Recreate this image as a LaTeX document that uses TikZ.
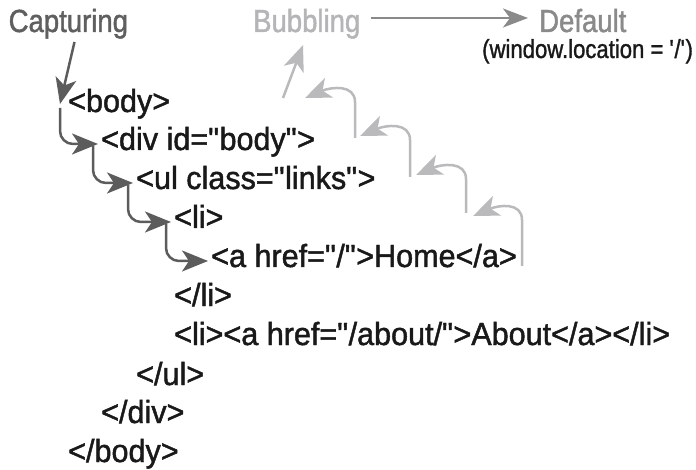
\documentclass[tikz,border=0pt]{standalone}
\usepackage{fontspec}
\setmainfont{Liberation Sans}
\newfontfamily\headfont[FakeStretch=0.86, FakeBold=1.4]{Liberation Sans}
\newfontfamily\codefont[FakeStretch=0.955, FakeBold=1.4]{Liberation Sans}
\newfontfamily\subfont[FakeStretch=0.85, FakeBold=1.2]{Liberation Sans}
\usepackage{tikz}
\usetikzlibrary{arrows.meta, positioning, calc}
\definecolor{capgray}{RGB}{95, 95, 95}
\definecolor{bubgray}{RGB}{181, 181, 183}
\definecolor{defgray}{RGB}{138, 138, 138}
\definecolor{codeblack}{RGB}{25, 25, 25}
\definecolor{capline}{RGB}{92, 92, 92}
\definecolor{bubline}{RGB}{186, 186, 188}
\newcommand{\dquo}{\textquotedbl}
\newcommand{\squo}{\textquotesingle}

\begin{document}
\begin{tikzpicture}[x=1pt, y=-1pt,
    txt/.style={inner sep=0pt, anchor=base west},
    tag/.style={txt, text=codeblack, font=\codefont\fontsize{32}{38}\selectfont},
    phase/.style={txt, font=\headfont\fontsize{32}{38}\selectfont},
    capflow/.style={-{Stealth[length=26pt, width=21pt, inset=7pt]}, line width=2.5pt, draw=capline, rounded corners=13pt},
    bubflow/.style={-{Stealth[length=26pt, width=21pt, inset=7pt]}, line width=2.5pt, draw=bubline},
    defflow/.style={-{Stealth[length=25pt, width=19pt, inset=7pt]}, line width=2pt, draw=defgray}]
    \useasboundingbox (0,0) rectangle (696,470);
    % phases
    \node[phase, text=capgray] (cap) at (8.5,32) {Capturing};
    \node[phase, text=bubgray] (bub) at (253,32) {Bubbling};
    \node[phase, text=defgray] (def) at (539,32) {Default};
    \node[txt, text=codeblack, font=\subfont\fontsize{26}{30}\selectfont] (loc) at (482,58) {(window.location = \squo/\squo)};
    % markup
    \node[tag] (body1) at (68,112) {<body>};
    \node[tag] (div1) at (101,150) {<div id=\dquo body\dquo>};
    \node[tag] (ul1) at (136,189) {<ul class=\dquo links\dquo>};
    \node[tag] (li1) at (174,228) {<li>};
    \node[tag] (a1) at (211,267) {<a href=\dquo/\dquo>Home</a>};
    \node[tag] (li1end) at (174,306) {</li>};
    \node[tag] (li2) at (174,345) {<li><a href=\dquo/about/\dquo>About</a></li>};
    \node[tag] (ul1end) at (136,385) {</ul>};
    \node[tag] (div1end) at (101,423) {</div>};
    \node[tag] (body1end) at (68,462) {</body>};
    % capturing
    \draw[capflow] ([shift={(66,10)}]cap.base west) -- ([shift={(-8,-8)}]body1.base west);
    \foreach \a/\b in {body1/div1, div1/ul1, ul1/li1, li1/a1}
        \draw[capflow] ([shift={(-8,-4)}]\a.base west) |- ([shift={(-3,-6)}]\b.base west);
    % bubbling
    \coordinate (h1s) at (522,266);
    \coordinate (h1t) at (473,216);
    \coordinate (h2s) at (466,213);
    \coordinate (h2t) at (416,175);
    \coordinate (h3s) at (410,177);
    \coordinate (h3t) at (360,136);
    \coordinate (h4s) at (355,138);
    \coordinate (h4t) at (305,98);
    \coordinate (h5s) at (283,98);
    \foreach \s/\t in {h1s/h1t, h2s/h2t, h3s/h3t, h4s/h4t}
        \draw[bubflow] (\s) -- ($(\s |- \t)+(0,4)$) .. controls +(0,-18) and +(26,-11) .. (\t);
    \draw[bubflow] (h5s) -- ([shift={(50,13)}]bub.base west);
    % default action
    \draw[defflow] ([shift={(10,-14)}]bub.base east) -- ([shift={(-11,-14)}]def.base west);
\end{tikzpicture}
\end{document}
